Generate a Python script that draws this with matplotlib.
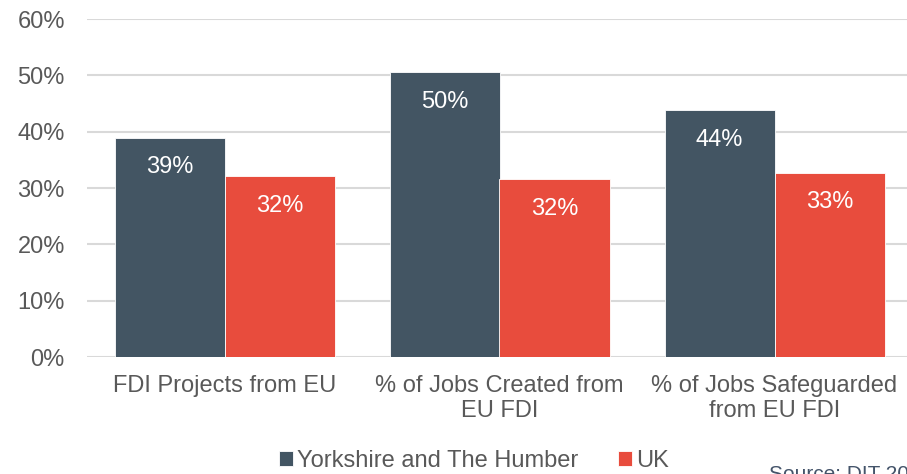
import matplotlib.pyplot as plt
import numpy as np

# *** Data *** #
categories = ["FDI Projects from EU", "% of Jobs Created from\nEU FDI", "% of Jobs Safeguarded\nfrom EU FDI"]
yorkshire = [38.9, 50.6, 43.8]
uk = [32.1, 31.6, 32.7]
yorkshire_labels = ["39%", "50%", "44%"]
uk_labels = ["32%", "32%", "33%"]

dark = "#435563"
red = "#E84C3D"
grey = "#595959"

plt.rcParams['font.family'] = ['Liberation Sans', 'DejaVu Sans']

fig = plt.figure(figsize=(9.07, 4.74), dpi=100)
# axis runs past the right edge, as in the original
ax = fig.add_axes([87 / 907, 1 - 357 / 474, 825 / 907, 338 / 474])

x = np.arange(len(categories))
w = 0.4
b1 = ax.bar(x - w / 2, yorkshire, w, color=dark, edgecolor="white", linewidth=0.6, label="Yorkshire and The Humber", zorder=3)
b2 = ax.bar(x + w / 2, uk, w, color=red, edgecolor="white", linewidth=0.6, label="UK", zorder=3)

for bars, labs in [(b1, yorkshire_labels), (b2, uk_labels)]:
    for rect, lab in zip(bars, labs):
        ax.text(rect.get_x() + rect.get_width() / 2, rect.get_height() - 3.3, lab,
                ha="center", va="top", color="white", fontsize=17, zorder=4)

ax.set_xlim(-0.5, 2.5)
ax.set_ylim(0, 60)
ax.set_yticks(range(0, 61, 10))
ax.set_yticklabels([f"{v}%" for v in range(0, 61, 10)], fontsize=17, color=grey)
ax.set_xticks(x)
ax.set_xticklabels(categories, fontsize=17, color=grey, linespacing=1.15)
ax.tick_params(axis="both", length=0)
ax.tick_params(axis="y", pad=16)
ax.tick_params(axis="x", pad=13)
ax.grid(axis="y", color="#D9D9D9", linewidth=1.5, zorder=0)
for s in ax.spines.values():
    s.set_visible(False)

leg = fig.legend(loc="center", bbox_to_anchor=(474 / 907, 1 - 461 / 474), ncol=2, frameon=False,
                 fontsize=17, handlelength=0.6, handleheight=0.6, handletextpad=0.15, columnspacing=1.7)
for t in leg.get_texts():
    t.set_color(grey)

# source note is cut off by the figure edge in the original
fig.text(769 / 907, 1 - 484 / 474, "Source: DIT 2017", fontsize=15, color="#44546A", ha="left", va="bottom")

plt.savefig("out.png", dpi=100)
